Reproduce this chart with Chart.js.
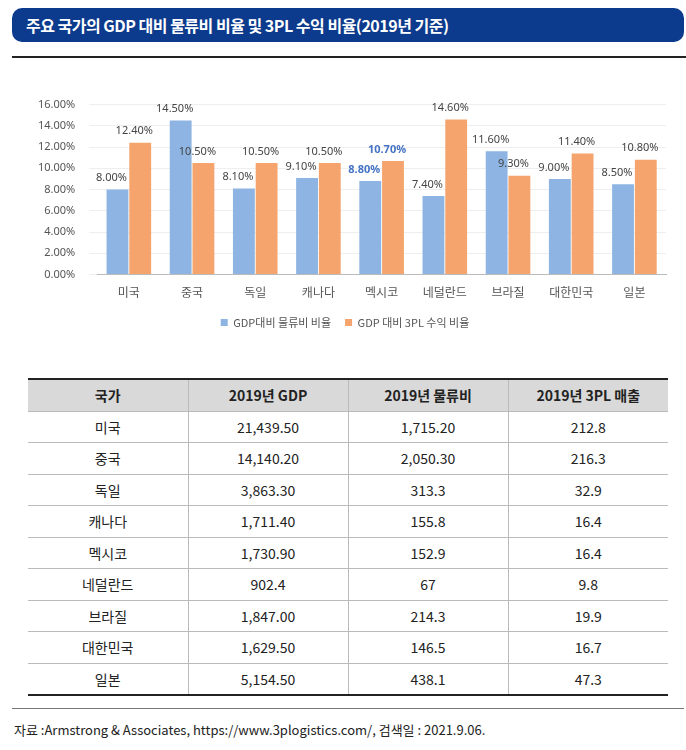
<!DOCTYPE html>
<html><head><meta charset="utf-8">
<script src="https://cdn.jsdelivr.net/npm/chart.js@4"></script>
<style>
body{margin:0;width:686px;height:750px;background:#fff;font-family:"Noto Sans CJK KR","Noto Sans",sans-serif;position:relative;overflow:hidden}
#title{position:absolute;left:12px;top:8px;width:672px;height:34px;background:#0c3a8c;border-radius:10px;color:#fff;font-size:16px;font-weight:bold;line-height:34px;padding-left:14px;box-sizing:border-box;letter-spacing:-0.5px}
#rule{position:absolute;left:12px;top:56px;width:674px;border-top:2px solid #222}
#wrap{position:absolute;left:24px;top:84px;width:648px;height:254px}
table{position:absolute;left:28px;top:378px;width:640px;border-collapse:collapse;table-layout:fixed;font-size:14px;color:#222}
th,td{height:30.5px;text-align:center;border-bottom:1px solid #bbb;border-left:1px solid #bbb;padding:0}
th:first-child,td:first-child{border-left:none}
th{background:#d9d9d9;font-weight:bold;border-top:2px solid #222}
tr:last-child td{border-bottom:2px solid #222}
#foot{position:absolute;left:12px;top:708px;width:672px;border-top:1px solid #777}
#src{position:absolute;left:14px;top:720px;font-size:13px;color:#222}
</style></head><body>
<div id="title">주요 국가의 GDP 대비 물류비 비율 및 3PL 수익 비율(2019년 기준)</div>
<div id="rule"></div>
<div id="wrap"><canvas id="c"></canvas></div>
<table id="tbl"></table>
<div id="foot"></div>
<div id="src">자료 :Armstrong &amp; Associates, https://www.3plogistics.com/, 검색일 : 2021.9.06.</div>
<script>
const countries = ['미국','중국','독일','캐나다','멕시코','네덜란드','브라질','대한민국','일본'];
const logisticsRatio = [8.0,14.5,8.1,9.1,8.8,7.4,11.6,9.0,8.5];
const plRatio = [12.4,10.5,10.5,10.5,10.7,14.6,9.3,11.4,10.8];
const gdp2019 = ['21,439.50','14,140.20','3,863.30','1,711.40','1,730.90','902.4','1,847.00','1,629.50','5,154.50'];
const logistics2019 = ['1,715.20','2,050.30','313.3','155.8','152.9','67','214.3','146.5','438.1'];
const pl2019 = ['212.8','216.3','32.9','16.4','16.4','9.8','19.9','16.7','47.3'];
const tableHeader = ['국가','2019년 GDP','2019년 물류비','2019년 3PL 매출'];

let html = '<tr>' + tableHeader.map(h => `<th>${h}</th>`).join('') + '</tr>';
countries.forEach((c, i) => {
    html += `<tr><td>${c}</td><td>${gdp2019[i]}</td><td>${logistics2019[i]}</td><td>${pl2019[i]}</td></tr>`;
});
document.getElementById('tbl').innerHTML = html;

const labelPlugin = {
    id: 'barLabels',
    afterDatasetsDraw(chart) {
        const ctx = chart.ctx;
        ctx.save();
        ctx.textAlign = 'center';
        ctx.textBaseline = 'bottom';
        chart.data.datasets.forEach((ds, di) => {
            chart.getDatasetMeta(di).data.forEach((bar, i) => {
                const mex = i === 4;
                ctx.fillStyle = mex ? '#4472c4' : '#444';
                ctx.font = (mex ? 'bold ' : '') + '11px "Noto Sans", sans-serif';
                ctx.fillText(ds.data[i].toFixed(2) + '%', bar.x - 6, bar.y - 6);
            });
        });
        ctx.restore();
    }
};

new Chart(document.getElementById('c'), {
    type: 'bar',
    data: {
        labels: countries,
        datasets: [
            { label: 'GDP대비 물류비 비율', data: logisticsRatio, backgroundColor: '#8db4e2', categoryPercentage: 0.72, barPercentage: 0.96 },
            { label: 'GDP 대비 3PL 수익 비율', data: plRatio, backgroundColor: '#f4a46c', categoryPercentage: 0.72, barPercentage: 0.96 },
        ],
    },
    options: {
        responsive: true,
        maintainAspectRatio: false,
        animation: false,
        layout: { padding: { right: 6 } },
        plugins: {
            legend: { position: 'bottom', labels: { color: '#555', font: { family: 'Noto Sans CJK KR', size: 11 }, boxWidth: 7, boxHeight: 7, padding: 14 } },
            tooltip: { enabled: false },
        },
        scales: {
            x: { grid: { display: false }, border: { color: '#bbb' }, ticks: { color: '#555', font: { family: 'Noto Sans CJK KR', size: 12 } } },
            y: { min: 0, max: 16, grid: { color: '#eee' }, border: { display: false },
                 ticks: { stepSize: 2, color: '#555', padding: 14, font: { family: 'Noto Sans', size: 11 }, callback: v => v.toFixed(2) + '%' } },
        },
    },
    plugins: [labelPlugin],
});
</script>
</body></html>
